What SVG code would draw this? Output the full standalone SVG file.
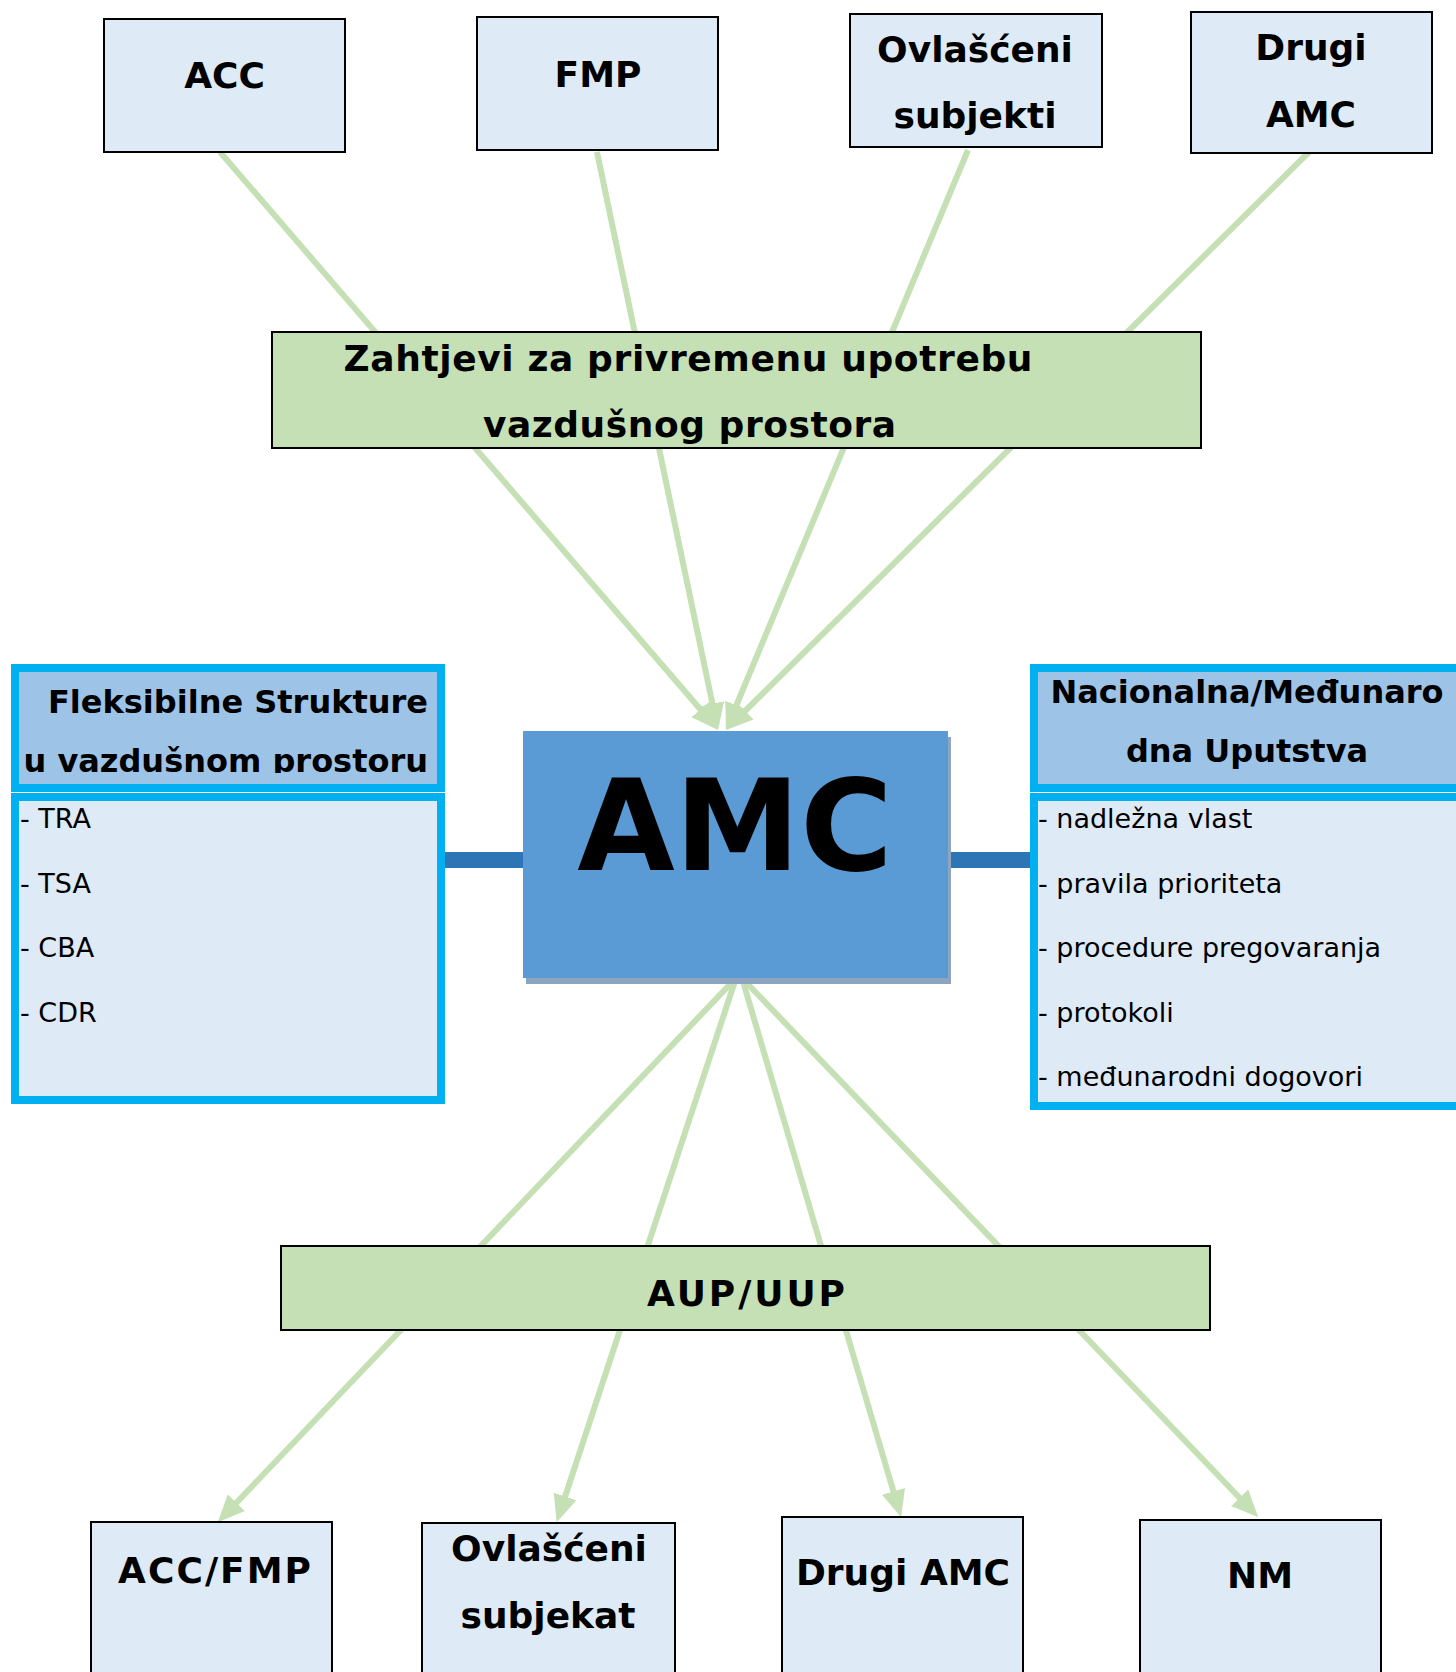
<svg xmlns="http://www.w3.org/2000/svg" width="1456" height="1672" viewBox="0 0 1456 1672">
<style>
.box{fill:#DEEBF7;stroke:#000;stroke-width:2}
.grn{fill:#C5E0B4;stroke:#000;stroke-width:2}
.lbl{font-family:"DejaVu Sans","Verdana",sans-serif;font-weight:bold;font-size:36px;fill:#000;text-anchor:middle}
.hdr{font-family:"DejaVu Sans",sans-serif;font-weight:bold;font-size:32px;fill:#000}
.itm{font-family:"DejaVu Sans",sans-serif;font-size:27px;fill:#000}
.conn{stroke:#C5E0B4;stroke-width:6;fill:none;marker-end:url(#ah)}
.cyan{stroke:#00B0F0;stroke-width:8}
</style>
<defs>
<marker id="ah" markerUnits="userSpaceOnUse" markerWidth="28" markerHeight="24" refX="10" refY="12" orient="auto">
<path d="M0,0 L27,12 L0,24 z" fill="#C5E0B4"/>
</marker>
<clipPath id="hclip"><rect x="15" y="668" width="426" height="105"/></clipPath>
</defs>
<rect width="1456" height="1672" fill="#fff"/>

<g id="connectors">
<line class="conn" x1="220" y1="152" x2="707" y2="717"/>
<line class="conn" x1="597" y1="152" x2="714.5" y2="713.5"/>
<line class="conn" x1="968" y1="150" x2="732.5" y2="714.5"/>
<line class="conn" x1="1309" y1="152" x2="738" y2="718"/>
<line class="conn" x1="736" y1="978" x2="229.5" y2="1510"/>
<line class="conn" x1="736" y1="978" x2="562" y2="1506"/>
<line class="conn" x1="742" y1="978" x2="896.3" y2="1501"/>
<line class="conn" x1="742" y1="978" x2="1246.5" y2="1505"/>
<rect x="445" y="852" width="78" height="16" fill="#2E75B6"/>
<rect x="951" y="852" width="80" height="16" fill="#2E75B6"/>
</g>

<g id="acc">
<rect class="box" x="104" y="19" width="241" height="133"/>
<text class="lbl" x="224.5" y="88">ACC</text>
</g>
<g id="fmp">
<rect class="box" x="477" y="17" width="241" height="133"/>
<text class="lbl" x="598" y="87">FMP</text>
</g>
<g id="ovlasceni-subjekti">
<rect class="box" x="850" y="14" width="252" height="133"/>
<text class="lbl" x="975" y="62">Ovlašćeni</text>
<text class="lbl" x="975" y="128">subjekti</text>
</g>
<g id="drugi-amc-top">
<rect class="box" x="1191" y="12" width="241" height="141"/>
<text class="lbl" x="1311" y="60">Drugi</text>
<text class="lbl" x="1311" y="127">AMC</text>
</g>

<g id="zahtjevi">
<rect class="grn" x="272" y="332" width="929" height="116"/>
<text class="lbl" x="688" y="371" font-size="37" textLength="689">Zahtjevi za privremenu upotrebu</text>
<text class="lbl" x="689.5" y="437" font-size="37" textLength="413">vazdušnog prostora</text>
</g>

<g id="amc">
<rect x="526" y="737" width="425" height="247" fill="#8EA5C0"/>
<rect x="523" y="731" width="425" height="247" fill="#5B9BD5"/>
<text class="lbl" x="735" y="870" style="font-size:126px">AMC</text>
</g>

<g id="fleksibilne">
<rect class="cyan" x="15" y="668" width="426" height="120" fill="#9DC3E6"/>
<g clip-path="url(#hclip)">
<text class="hdr" x="428" y="713" text-anchor="end">Fleksibilne Strukture</text>
<text class="hdr" x="428" y="772" text-anchor="end">u vazdušnom prostoru</text>
</g>
<rect class="cyan" x="15" y="797" width="426" height="303" fill="#DEEBF7"/>
<text class="itm" x="20" y="828">- TRA</text>
<text class="itm" x="20" y="893">- TSA</text>
<text class="itm" x="20" y="957">- CBA</text>
<text class="itm" x="20" y="1022">- CDR</text>
</g>

<g id="uputstva">
<rect class="cyan" x="1034" y="668" width="440" height="120" fill="#9DC3E6"/>
<text class="hdr" x="1247" y="703" text-anchor="middle">Nacionalna/Međunaro</text>
<text class="hdr" x="1247" y="762" text-anchor="middle">dna Uputstva</text>
<rect class="cyan" x="1034" y="797" width="440" height="309" fill="#DEEBF7"/>
<text class="itm" x="1038" y="828">- nadležna vlast</text>
<text class="itm" x="1038" y="893">- pravila prioriteta</text>
<text class="itm" x="1038" y="957">- procedure pregovaranja</text>
<text class="itm" x="1038" y="1022">- protokoli</text>
<text class="itm" x="1038" y="1086">- međunarodni dogovori</text>
</g>

<g id="aup-uup">
<rect class="grn" x="281" y="1246" width="929" height="84"/>
<text class="lbl" x="746" y="1306" textLength="198">AUP/UUP</text>
</g>

<g id="acc-fmp">
<rect class="box" x="91" y="1522" width="241" height="170"/>
<text class="lbl" x="214.5" y="1583" textLength="193">ACC/FMP</text>
</g>
<g id="ovlasceni-subjekat">
<rect class="box" x="422" y="1523" width="253" height="170"/>
<text class="lbl" x="549" y="1561">Ovlašćeni</text>
<text class="lbl" x="548" y="1628">subjekat</text>
</g>
<g id="drugi-amc-bottom">
<rect class="box" x="782" y="1517" width="241" height="170"/>
<text class="lbl" x="903" y="1585">Drugi AMC</text>
</g>
<g id="nm">
<rect class="box" x="1140" y="1520" width="241" height="170"/>
<text class="lbl" x="1260" y="1588">NM</text>
</g>
</svg>
